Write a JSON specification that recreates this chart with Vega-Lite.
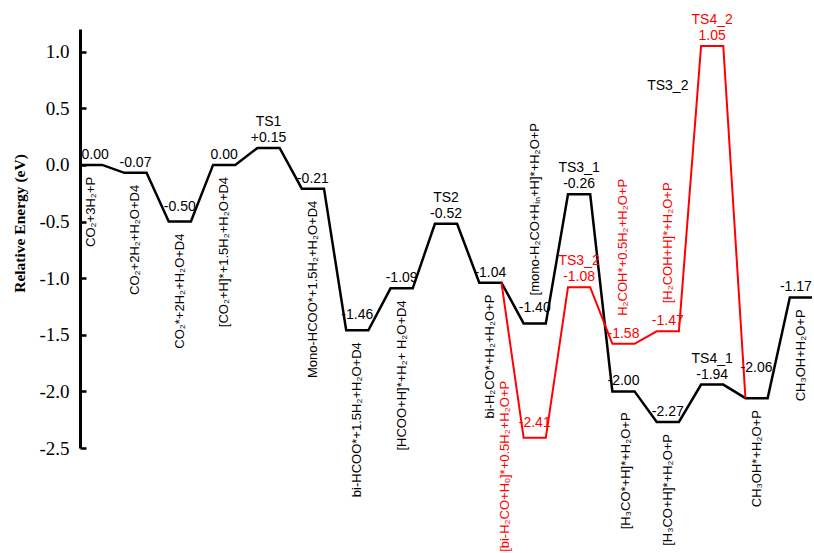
{
  "$schema": "https://vega.github.io/schema/vega-lite/v6.json",
  "width": 732,
  "height": 419,
  "autosize": {"type": "none"},
  "padding": {"left": 80, "top": 29, "right": 2, "bottom": 105},
  "background": "white",
  "config": {
    "view": {"stroke": null},
    "text": {"font": "Liberation Sans"},
    "axis": {"labelFont": "Liberation Serif", "titleFont": "Liberation Serif"}
  },
  "datasets": {
    "path": [
      {"series": "main", "step": -0.25, "E": 0.0},
      {"series": "main", "step": 0.25, "E": 0.0},
      {"series": "main", "step": 0.75, "E": -0.07},
      {"series": "main", "step": 1.25, "E": -0.07},
      {"series": "main", "step": 1.75, "E": -0.5},
      {"series": "main", "step": 2.25, "E": -0.5},
      {"series": "main", "step": 2.75, "E": 0.0},
      {"series": "main", "step": 3.25, "E": 0.0},
      {"series": "main", "step": 3.75, "E": 0.15},
      {"series": "main", "step": 4.25, "E": 0.15},
      {"series": "main", "step": 4.75, "E": -0.21},
      {"series": "main", "step": 5.25, "E": -0.21},
      {"series": "main", "step": 5.75, "E": -1.46},
      {"series": "main", "step": 6.25, "E": -1.46},
      {"series": "main", "step": 6.75, "E": -1.09},
      {"series": "main", "step": 7.25, "E": -1.09},
      {"series": "main", "step": 7.75, "E": -0.52},
      {"series": "main", "step": 8.25, "E": -0.52},
      {"series": "main", "step": 8.75, "E": -1.04},
      {"series": "main", "step": 9.25, "E": -1.04},
      {"series": "main", "step": 9.75, "E": -1.4},
      {"series": "main", "step": 10.25, "E": -1.4},
      {"series": "main", "step": 10.75, "E": -0.26},
      {"series": "main", "step": 11.25, "E": -0.26},
      {"series": "main", "step": 11.75, "E": -2.0},
      {"series": "main", "step": 12.25, "E": -2.0},
      {"series": "main", "step": 12.75, "E": -2.27},
      {"series": "main", "step": 13.25, "E": -2.27},
      {"series": "main", "step": 13.75, "E": -1.94},
      {"series": "main", "step": 14.25, "E": -1.94},
      {"series": "main", "step": 14.75, "E": -2.06},
      {"series": "main", "step": 15.25, "E": -2.06},
      {"series": "main", "step": 15.75, "E": -1.17},
      {"series": "main", "step": 16.25, "E": -1.17},
      {"series": "alt", "step": 9.25, "E": -1.04},
      {"series": "alt", "step": 9.75, "E": -2.41},
      {"series": "alt", "step": 10.25, "E": -2.41},
      {"series": "alt", "step": 10.75, "E": -1.08},
      {"series": "alt", "step": 11.25, "E": -1.08},
      {"series": "alt", "step": 11.75, "E": -1.58},
      {"series": "alt", "step": 12.25, "E": -1.58},
      {"series": "alt", "step": 12.75, "E": -1.47},
      {"series": "alt", "step": 13.25, "E": -1.47},
      {"series": "alt", "step": 13.75, "E": 1.05},
      {"series": "alt", "step": 14.25, "E": 1.05},
      {"series": "alt", "step": 14.75, "E": -2.06}
    ],
    "levels": [
      {"step": 0, "E": 0.0, "val": "0.00", "series": "main", "name": "CO₂+3H₂+P", "npos": "below", "vpos": "right"},
      {"step": 1, "E": -0.07, "val": "-0.07", "series": "main", "name": "CO₂+2H₂+H₂O+D4", "npos": "below", "vpos": "std"},
      {"step": 2, "E": -0.5, "val": "-0.50", "series": "main", "name": "CO₂*+2H₂+H₂O+D4", "npos": "below", "vpos": "raised"},
      {"step": 3, "E": 0.0, "val": "0.00", "series": "main", "name": "[CO₂+H]*+1.5H₂+H₂O+D4", "npos": "below", "vpos": "std"},
      {"step": 4, "E": 0.15, "val": "+0.15", "series": "main", "ts": "TS1", "vpos": "std"},
      {"step": 5, "E": -0.21, "val": "-0.21", "series": "main", "name": "Mono-HCOO*+1.5H₂+H₂O+D4", "npos": "below", "vpos": "std"},
      {"step": 6, "E": -1.46, "val": "-1.46", "series": "main", "name": "bi-HCOO*+1.5H₂+H₂O+D4", "npos": "below", "vpos": "raised"},
      {"step": 7, "E": -1.09, "val": "-1.09", "series": "main", "name": "[HCOO+H]*+H₂+ H₂O+D4", "npos": "below", "vpos": "std"},
      {"step": 8, "E": -0.52, "val": "-0.52", "series": "main", "ts": "TS2", "vpos": "std"},
      {"step": 9, "E": -1.04, "val": "-1.04", "series": "main", "name": "bi-H₂CO*+H₂+H₂O+P", "npos": "below", "vpos": "std"},
      {"step": 10, "E": -1.4, "val": "-1.40", "series": "main", "name": "[mono-H₂CO+Hᵢₙ+H]*+H₂O+P", "npos": "above", "vpos": "raised"},
      {"step": 11, "E": -0.26, "val": "-0.26", "series": "main", "ts": "TS3_1", "vpos": "std"},
      {"step": 12, "E": -2.0, "val": "-2.00", "series": "main", "name": "[H₃CO*+H]*+H₂O+P", "npos": "below2", "vpos": "std"},
      {"step": 13, "E": -2.27, "val": "-2.27", "series": "main", "name": "[H₃CO+H]*+H₂O+P", "npos": "below", "vpos": "std"},
      {"step": 14, "E": -1.94, "val": "-1.94", "series": "main", "ts": "TS4_1", "vpos": "std"},
      {"step": 15, "E": -2.06, "val": "-2.06", "series": "main", "name": "CH₃OH*+H₂O+P", "npos": "below", "vpos": "high"},
      {"step": 16, "E": -1.17, "val": "-1.17", "series": "main", "name": "CH₃OH+H₂O+P", "npos": "below", "vpos": "left"},
      {"step": 10, "E": -2.41, "val": "-2.41", "series": "alt", "name": "[bi-H₂CO+Hₒ]*+0.5H₂+H₂O+P", "npos": "redbi", "vpos": "raised"},
      {"step": 11, "E": -1.08, "val": "-1.08", "series": "alt", "ts": "TS3_2", "vpos": "std"},
      {"step": 12, "E": -1.58, "val": "-1.58", "series": "alt", "name": "H₂COH*+0.5H₂+H₂O+P", "npos": "above", "vpos": "std"},
      {"step": 13, "E": -1.47, "val": "-1.47", "series": "alt", "name": "[H₂COH+H]*+H₂O+P", "npos": "above", "vpos": "std"},
      {"step": 14, "E": 1.05, "val": "1.05", "series": "alt", "ts": "TS4_2", "vpos": "std"}
    ],
    "notes": [
      {"step": 13, "E": 0.7, "note": "TS3_2", "series": "main"}
    ]
  },
  "encoding": {
    "x": {"field": "step", "type": "quantitative", "scale": {"domain": [-0.25, 16.25], "nice": false, "zero": false}, "axis": null},
    "y": {
      "field": "E", "type": "quantitative",
      "scale": {"domain": [-2.5, 1.2], "nice": false, "zero": false},
      "axis": {
        "values": [-2.5, -2, -1.5, -1, -0.5, 0, 0.5, 1],
        "format": ".1f",
        "labelExpr": "replace(datum.label, '\u2212', '-')",
        "title": "Relative Energy (eV)",
        "grid": false,
        "domainColor": "#000000",
        "domainWidth": 3,
        "tickColor": "#000000",
        "tickWidth": 2.5,
        "tickSize": -6,
        "labelFont": "Liberation Serif",
        "labelFontSize": 19,
        "labelColor": "#000000",
        "labelPadding": 17,
        "labelFlush": false,
        "labelOverlap": false,
        "titleFont": "Liberation Serif",
        "titleFontSize": 15.5,
        "titleFontWeight": "bold",
        "titleColor": "#000000",
        "titleAngle": 270,
        "titleX": -61,
        "titleY": 194,
        "titleAlign": "center",
        "titleBaseline": "middle"
      }
    },
    "color": {"field": "series", "type": "nominal", "scale": {"domain": ["main", "alt"], "range": ["#000000", "#ff0000"]}, "legend": null}
  },
  "layer": [
    {
      "data": {"name": "path"},
      "transform": [{"filter": "datum.series == 'main'"}],
      "mark": {"type": "line", "strokeWidth": 2.5}
    },
    {
      "data": {"name": "path"},
      "transform": [{"filter": "datum.series == 'alt'"}],
      "mark": {"type": "line", "strokeWidth": 2}
    },
    {
      "data": {"name": "levels"},
      "transform": [{"filter": "datum.vpos == 'std'"}],
      "mark": {"type": "text", "dy": -10, "fontSize": 14, "align": "center", "baseline": "middle"},
      "encoding": {"text": {"field": "val"}}
    },
    {
      "data": {"name": "levels"},
      "transform": [{"filter": "datum.vpos == 'right'"}],
      "mark": {"type": "text", "dx": 4, "dy": -10, "fontSize": 14, "align": "center", "baseline": "middle"},
      "encoding": {"text": {"field": "val"}}
    },
    {
      "data": {"name": "levels"},
      "transform": [{"filter": "datum.vpos == 'left'"}],
      "mark": {"type": "text", "dx": -5, "dy": -10, "fontSize": 14, "align": "center", "baseline": "middle"},
      "encoding": {"text": {"field": "val"}}
    },
    {
      "data": {"name": "levels"},
      "transform": [{"filter": "datum.vpos == 'raised'"}],
      "mark": {"type": "text", "dy": -15, "fontSize": 14, "align": "center", "baseline": "middle"},
      "encoding": {"text": {"field": "val"}}
    },
    {
      "data": {"name": "levels"},
      "transform": [{"filter": "datum.vpos == 'high'"}],
      "mark": {"type": "text", "dy": -30, "fontSize": 14, "align": "center", "baseline": "middle"},
      "encoding": {"text": {"field": "val"}}
    },
    {
      "data": {"name": "levels"},
      "transform": [{"filter": "isValid(datum.ts)"}],
      "mark": {"type": "text", "dy": -26, "fontSize": 14, "align": "center", "baseline": "middle"},
      "encoding": {"text": {"field": "ts"}}
    },
    {
      "data": {"name": "levels"},
      "transform": [{"filter": "datum.npos == 'below'"}],
      "mark": {"type": "text", "angle": 270, "dx": -12, "fontSize": 13, "align": "right", "baseline": "middle"},
      "encoding": {"text": {"field": "name"}}
    },
    {
      "data": {"name": "levels"},
      "transform": [{"filter": "datum.npos == 'below2'"}],
      "mark": {"type": "text", "angle": 270, "dx": -21, "dy": 3, "fontSize": 13, "align": "right", "baseline": "middle"},
      "encoding": {"text": {"field": "name"}}
    },
    {
      "data": {"name": "levels"},
      "transform": [{"filter": "datum.npos == 'above'"}],
      "mark": {"type": "text", "angle": 270, "dx": 28, "fontSize": 13, "align": "left", "baseline": "middle"},
      "encoding": {"text": {"field": "name"}}
    },
    {
      "data": {"name": "levels"},
      "transform": [{"filter": "datum.npos == 'redbi'"}],
      "mark": {"type": "text", "angle": 270, "dx": 57, "dy": -30, "fontSize": 13, "align": "right", "baseline": "middle"},
      "encoding": {"text": {"field": "name"}}
    },
    {
      "data": {"name": "notes"},
      "mark": {"type": "text", "fontSize": 14, "align": "center", "baseline": "middle"},
      "encoding": {"text": {"field": "note"}}
    }
  ]
}
